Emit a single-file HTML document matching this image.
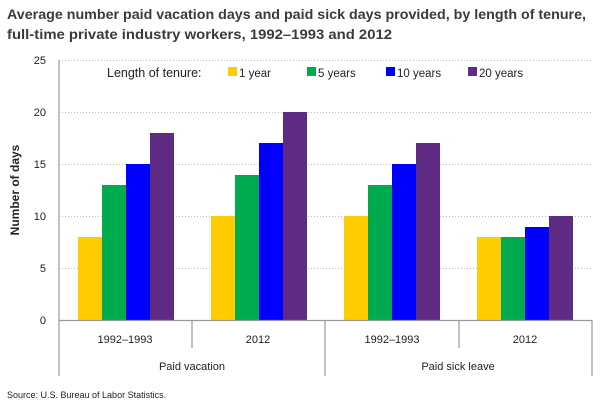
<!DOCTYPE html><html><head><style>body{margin:0;background:#fff}</style></head><body>
<svg width="607" height="408" xmlns="http://www.w3.org/2000/svg" font-family="Liberation Sans, sans-serif">
<text x="7" y="19" font-size="13.5" font-weight="bold" fill="#3a3a3a" textLength="579" lengthAdjust="spacingAndGlyphs">Average number paid vacation days and paid sick days provided, by length of tenure,</text>
<text x="7" y="39" font-size="13.5" font-weight="bold" fill="#3a3a3a" textLength="385" lengthAdjust="spacingAndGlyphs">full-time private industry workers, 1992–1993 and 2012</text>
<g stroke="#bbb" stroke-dasharray="1,2" stroke-width="1">
<line x1="59" y1="60.5" x2="592" y2="60.5"/><line x1="59" y1="112.5" x2="592" y2="112.5"/><line x1="59" y1="164.5" x2="592" y2="164.5"/><line x1="59" y1="216.5" x2="592" y2="216.5"/><line x1="59" y1="268.5" x2="592" y2="268.5"/></g>
<g font-size="11" fill="#222" text-anchor="end"><text x="46" y="64">25</text><text x="46" y="116">20</text><text x="46" y="168">15</text><text x="46" y="220">10</text><text x="46" y="272">5</text><text x="46" y="324">0</text></g>
<text transform="translate(19,190) rotate(-90)" font-size="12" font-weight="bold" text-anchor="middle" fill="#222">Number of days</text>
<g>
<rect x="78" y="237" width="24" height="83" fill="#ffcc00"/><rect x="102" y="185" width="24" height="135" fill="#00aa4f"/><rect x="126" y="164" width="24" height="156" fill="#0000ff"/><rect x="150" y="133" width="24" height="187" fill="#5e2a84"/>
<rect x="211" y="216" width="24" height="104" fill="#ffcc00"/><rect x="235" y="175" width="24" height="145" fill="#00aa4f"/><rect x="259" y="143" width="24" height="177" fill="#0000ff"/><rect x="283" y="112" width="24" height="208" fill="#5e2a84"/>
<rect x="344" y="216" width="24" height="104" fill="#ffcc00"/><rect x="368" y="185" width="24" height="135" fill="#00aa4f"/><rect x="392" y="164" width="24" height="156" fill="#0000ff"/><rect x="416" y="143" width="24" height="177" fill="#5e2a84"/>
<rect x="477" y="237" width="24" height="83" fill="#ffcc00"/><rect x="501" y="237" width="24" height="83" fill="#00aa4f"/><rect x="525" y="227" width="24" height="93" fill="#0000ff"/><rect x="549" y="216" width="24" height="104" fill="#5e2a84"/>
</g>
<g stroke="#999" stroke-width="1.2">
<line x1="59" y1="60" x2="59" y2="376"/><line x1="59" y1="320.5" x2="592" y2="320.5"/>
<line x1="192" y1="320" x2="192" y2="348"/><line x1="325" y1="320" x2="325" y2="376"/><line x1="459" y1="320" x2="459" y2="348"/><line x1="592" y1="320" x2="592" y2="376"/></g>
<g font-size="11" fill="#222" text-anchor="middle"><text x="125" y="343">1992–1993</text><text x="258" y="343">2012</text><text x="392" y="343">1992–1993</text><text x="525" y="343">2012</text>
<text x="192" y="370">Paid vacation</text><text x="458" y="370">Paid sick leave</text></g>
<g font-size="12" fill="#222"><text x="107" y="77" font-size="12.5">Length of tenure:</text>
<rect x="228" y="67" width="9" height="9" fill="#ffcc00"/><text x="239" y="77" font-size="11.5">1 year</text>
<rect x="307" y="67" width="9" height="9" fill="#00aa4f"/><text x="318" y="77" font-size="11.5">5 years</text>
<rect x="386" y="67" width="9" height="9" fill="#0000ff"/><text x="397" y="77" font-size="11.5">10 years</text>
<rect x="468" y="67" width="9" height="9" fill="#5e2a84"/><text x="479" y="77" font-size="11.5">20 years</text></g>
<text x="7" y="398" font-size="9" fill="#222">Source: U.S. Bureau of Labor Statistics.</text>
</svg></body></html>
